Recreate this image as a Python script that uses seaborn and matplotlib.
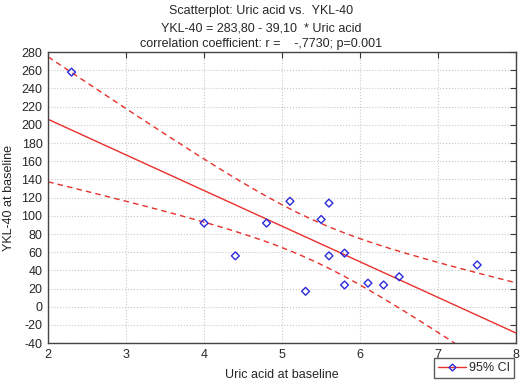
import numpy as np
import pandas as pd
import matplotlib
matplotlib.use('Agg')
import matplotlib.pyplot as plt
import seaborn as sns
from matplotlib.lines import Line2D

uric_acid = [2.3, 4.0, 4.4, 4.8, 5.1, 5.3, 5.5, 5.6, 5.6, 5.8, 5.8, 6.1, 6.3, 6.5, 7.5]
ykl40 = [258, 92, 56, 92, 116, 17, 96, 114, 56, 59, 24, 26, 24, 33, 46]

x_ticks = [2, 3, 4, 5, 6, 7, 8]
y_ticks = list(range(-40, 281, 20))

title_lines = ["Scatterplot: Uric acid vs.  YKL-40",
               "YKL-40 = 283,80 - 39,10  * Uric acid",
               "correlation coefficient: r =    -,7730; p=0.001"]

df = pd.DataFrame({'x': uric_acid, 'y': ykl40})

# linear fit + 95% confidence band for the mean
x = np.array(uric_acid)
y = np.array(ykl40)
n = len(x)
slope, intercept = np.polyfit(x, y, 1)
resid = y - (intercept + slope * x)
s = np.sqrt(np.sum(resid ** 2) / (n - 2))
t_val = 2.160  # t(0.975, df=13)
xs = np.linspace(2, 8, 200)
fit = intercept + slope * xs
se = s * np.sqrt(1 / n + (xs - x.mean()) ** 2 / np.sum((x - x.mean()) ** 2))
line_df = pd.DataFrame({'x': xs, 'fit': fit, 'lo': fit - t_val * se, 'hi': fit + t_val * se})

sns.set_style('white')
plt.rcParams['font.family'] = ['Liberation Sans', 'DejaVu Sans']
plt.rcParams['axes.unicode_minus'] = False

fig = plt.figure(figsize=(5.23, 3.86), dpi=100)
ax = fig.add_axes([0.092, 0.111, 0.895, 0.754])

red = '#e8302c'
sns.lineplot(data=line_df, x='x', y='fit', ax=ax, color=red, lw=1.0)
sns.lineplot(data=line_df, x='x', y='lo', ax=ax, color=red, lw=1.0, linestyle=(0, (4, 3)))
sns.lineplot(data=line_df, x='x', y='hi', ax=ax, color=red, lw=1.0, linestyle=(0, (4, 3)))
sns.scatterplot(data=df, x='x', y='y', ax=ax, marker='D', s=16, facecolor='none',
                edgecolor='#2b2bdc', linewidth=1.0, zorder=5)

ax.set_xlim(2, 8)
ax.set_ylim(-40, 280)
ax.set_xticks(x_ticks)
ax.set_yticks(y_ticks)
ax.grid(True, color='#c8c8c8', linestyle=':', linewidth=0.8)
ax.tick_params(axis='both', labelsize=9, length=4, direction='in', top=True, right=True,
               color='#333333', pad=4)
for sp in ax.spines.values():
    sp.set_color('#444444')
    sp.set_linewidth(1.0)

ax.set_xlabel('Uric acid at baseline', fontsize=9, labelpad=6)
ax.set_ylabel('YKL-40 at baseline', fontsize=9, labelpad=5)

fig.text(0.5, 0.986, title_lines[0], ha='center', va='top', fontsize=9)
fig.text(0.5, 0.943, title_lines[1], ha='center', va='top', fontsize=9)
fig.text(0.5, 0.901, title_lines[2], ha='center', va='top', fontsize=9)

handle = Line2D([0], [0], color=red, lw=1.0, marker='D', markersize=3.5,
                markerfacecolor='none', markeredgecolor='#2b2bdc')
fig.legend([handle], ['95% CI'], loc='lower right', bbox_to_anchor=(0.995, 0.005),
           fontsize=9, frameon=True, fancybox=False, edgecolor='#333333',
           handlelength=2.2, borderpad=0.3, handletextpad=0.3)

fig.savefig('out.png', dpi=100)
